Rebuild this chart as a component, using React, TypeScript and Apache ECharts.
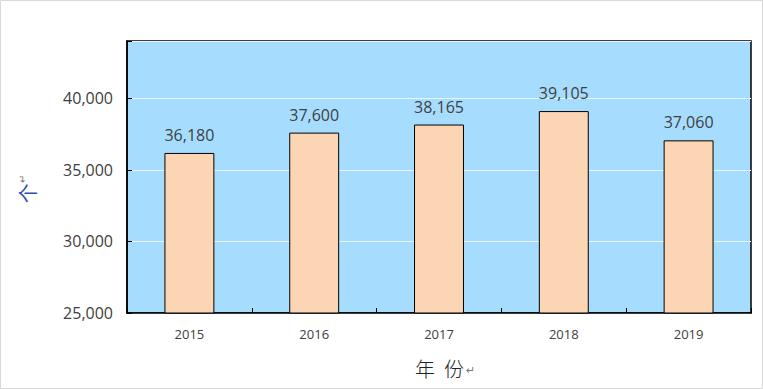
import React, { useEffect, useRef } from "react";
import * as echarts from "echarts";

const years = ["2015", "2016", "2017", "2018", "2019"];
const counts = [36180, 37600, 38165, 39105, 37060];
const yTicks = [25000, 30000, 35000, 40000];

export default function App() {
  const ref = useRef<HTMLDivElement>(null);
  useEffect(() => {
    if (!ref.current) return;
    const chart = echarts.init(ref.current, undefined, { renderer: "svg" });
    chart.setOption({
      animation: false,
      backgroundColor: "#ffffff",
      graphic: [
        {
          type: "rect",
          shape: { x: 0.5, y: 0.5, width: 762, height: 388 },
          style: { fill: "none", stroke: "#d9d9d9", lineWidth: 1 },
          z: 100,
        },
        {
          type: "text",
          x: 27,
          y: 189,
          rotation: Math.PI / 2,
          style: {
            text: "{a|个}{b|↵}",
            align: "center",
            verticalAlign: "middle",
            rich: {
              a: { fontSize: 20, fill: "#2f4fb0", fontFamily: "Noto Sans CJK SC" },
              b: { fontSize: 10, fill: "#777", fontFamily: "DejaVu Sans", padding: [0, 0, 10, 0] },
            },
          },
        },
      ],
      grid: {
        left: 127,
        right: 12,
        top: 41,
        bottom: 76,
        outerBoundsMode: "none",
        show: true,
        backgroundColor: "#a6ddff",
        borderColor: "#000",
        borderWidth: 1.5,
      },
      xAxis: {
        type: "category",
        data: years,
        name: "{a|年}{c|份}{b|↵}",
        nameLocation: "middle",
        nameGap: 45,
        nameTextStyle: {
          padding: [0, 0, 0, 12],
          rich: {
            a: { fontSize: 20, color: "#222", fontFamily: "Noto Sans CJK SC", fontWeight: 300 },
            c: { fontSize: 20, color: "#222", fontFamily: "Noto Sans CJK SC", fontWeight: 300, padding: [0, 0, 0, 9] },
            b: { fontSize: 11, color: "#777", fontFamily: "DejaVu Sans", padding: [6, 0, 0, 2] },
          },
        },
        axisLine: { show: true, lineStyle: { color: "#000", width: 1.5 } },
        axisTick: { show: true, inside: true, length: 5, lineStyle: { color: "#000" } },
        axisLabel: { fontSize: 13, color: "#404040", margin: 14, fontFamily: "Open Sans" },
      },
      yAxis: {
        type: "value",
        min: 25000,
        max: 44000,
        interval: 5000,
        axisLine: { show: true, lineStyle: { color: "#000", width: 1.5 } },
        axisTick: { show: true, inside: true, length: 5, lineStyle: { color: "#000" } },
        axisLabel: {
          fontSize: 16,
          color: "#404040",
          margin: 14,
          fontFamily: "Open Sans",
          formatter: (v: number) => (yTicks.includes(v) ? v.toLocaleString("en-US") : ""),
        },
        splitLine: { show: true, lineStyle: { color: "#e8f6ff", width: 1 } },
      },
      series: [
        {
          type: "bar",
          data: counts,
          barWidth: "40%",
          itemStyle: { color: "#fcd5b5", borderColor: "#000", borderWidth: 1 },
          label: {
            show: true,
            position: "top",
            distance: 10,
            fontSize: 16,
            color: "#404040",
            fontFamily: "Open Sans",
            formatter: (p: any) => Number(p.value).toLocaleString("en-US"),
          },
        },
      ],
    });
    return () => chart.dispose();
  }, []);
  return (
    <div
      ref={ref}
      style={{ position: "fixed", left: 0, top: 0, width: 763, height: 389 }}
    />
  );
}
